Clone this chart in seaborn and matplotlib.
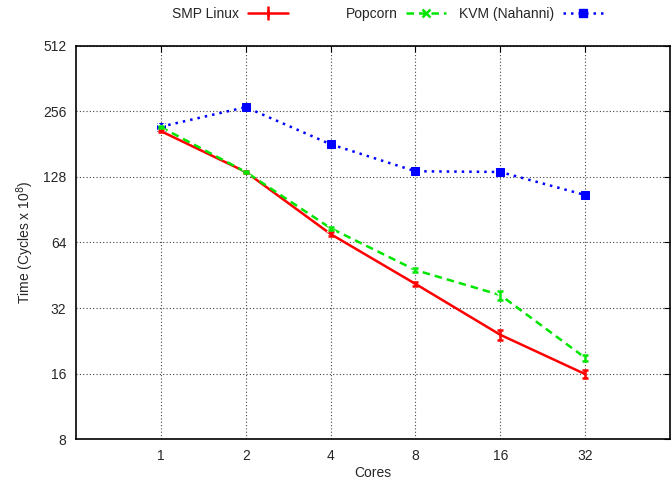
import matplotlib
matplotlib.use('Agg')
import matplotlib.pyplot as plt
import numpy as np
import pandas as pd
import seaborn as sns
from matplotlib.lines import Line2D

# Data
cores = [1, 2, 4, 8, 16, 32]
smp_linux = [208, 135, 70, 41.3, 24.1, 15.9]
smp_err = [3, 2, 1.2, 0.8, 1.3, 0.7]
popcorn = [217, 135, 74.5, 47.8, 36.7, 18.9]
popcorn_err = [2, 2, 1.2, 1.0, 1.8, 0.6]
kvm = [218, 268, 181, 136, 135, 105.8]
y_ticks = [8, 16, 32, 64, 128, 256, 512]

colours = {'SMP Linux': '#ff0000', 'Popcorn': '#00e600', 'KVM (Nahanni)': '#0000ff'}

sns.set_style('white')
plt.rcParams['font.family'] = ['Liberation Sans', 'DejaVu Sans']
plt.rcParams['font.size'] = 9.5

df = pd.DataFrame({
    'cores': cores * 3,
    'time': smp_linux + popcorn + kvm,
    'system': ['SMP Linux'] * 6 + ['Popcorn'] * 6 + ['KVM (Nahanni)'] * 6,
})

fig = plt.figure(figsize=(6.71, 4.80), dpi=100)
ax = fig.add_axes([0.1133, 0.0854, 0.8852, 0.8188])

# Lines via seaborn
sns.lineplot(data=df[df['system'] == 'SMP Linux'], x='cores', y='time',
             color=colours['SMP Linux'], lw=1.8, ax=ax, legend=False, zorder=3)
sns.lineplot(data=df[df['system'] == 'Popcorn'], x='cores', y='time',
             color=colours['Popcorn'], lw=1.8, ls=(0, (3, 2)), marker='x', ms=6,
             mew=1.8, ax=ax, legend=False, zorder=3)
sns.lineplot(data=df[df['system'] == 'KVM (Nahanni)'], x='cores', y='time',
             color=colours['KVM (Nahanni)'], lw=1.8, ls=(0, (1, 2)), marker='s', ms=5.5,
             mec=colours['KVM (Nahanni)'], ax=ax, legend=False, zorder=2)

# Error bars
ax.errorbar(cores, smp_linux, yerr=smp_err, fmt='none', ecolor=colours['SMP Linux'],
            elinewidth=1.8, capsize=2.5, capthick=1.8, zorder=4)
ax.errorbar(cores, popcorn, yerr=popcorn_err, fmt='none', ecolor=colours['Popcorn'],
            elinewidth=1.8, capsize=2.5, capthick=1.8, zorder=4)

ax.set_xscale('log', base=2)
ax.set_yscale('log', base=2)
ax.set_xlim(0.5, 64)
ax.set_ylim(8, 512)
ax.set_xticks(cores)
ax.set_xticklabels([str(c) for c in cores])
ax.set_yticks(y_ticks)
ax.set_yticklabels([str(t) for t in y_ticks])
ax.minorticks_off()
ax.tick_params(direction='in', length=4, width=0.8, color='black',
               top=True, right=True, pad=7, labelsize=10)

ax.grid(True, which='major', color='#444444', ls=(0, (1, 2)), lw=0.8)
for side in ax.spines.values():
    side.set_color('black')
    side.set_linewidth(1.2)

ax.set_xlabel('Cores', fontsize=10, labelpad=2)
ax.set_ylabel('Time (Cycles x 10$^{8}$)', fontsize=10, labelpad=5)

# gnuplot style key: right-aligned text followed by the sample
handles = [
    ax.errorbar([], [], yerr=[], color=colours['SMP Linux'], lw=1.8, capsize=2.5,
                capthick=1.8, elinewidth=1.8, marker='|', ms=4, mew=1.8),
    Line2D([], [], color=colours['Popcorn'], lw=1.8, ls=(0, (3, 2)), marker='x',
           ms=6, mew=1.8),
    Line2D([], [], color=colours['KVM (Nahanni)'], lw=1.8, ls=(0, (1, 2)),
           marker='s', ms=5.5),
]
labels = ['SMP Linux', 'Popcorn', 'KVM (Nahanni)']
sample_ends = [288, 446, 603]
for h, lab, xe in zip(handles, labels, sample_ends):
    fig.legend([h], [lab], loc='upper right', bbox_to_anchor=(xe / 671, 0.985),
               frameon=False, markerfirst=False, handlelength=2.9,
               handletextpad=0.6, borderpad=0, borderaxespad=0, fontsize=10)

fig.savefig('out.png', dpi=100)
